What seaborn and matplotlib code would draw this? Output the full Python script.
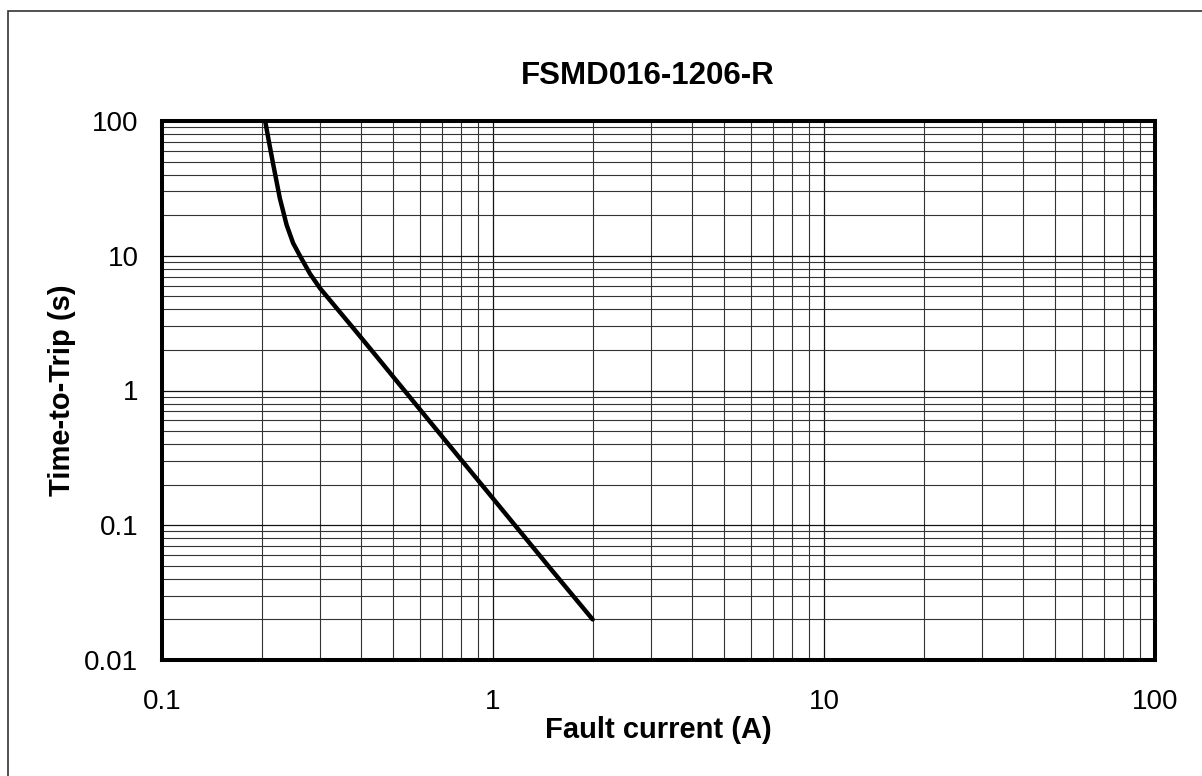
import matplotlib
matplotlib.use("Agg")
import matplotlib.pyplot as plt
from matplotlib.patches import Rectangle
from matplotlib.ticker import LogLocator, NullFormatter
import pandas as pd
import seaborn as sns

# Trip curve
current_a = [0.205, 0.21, 0.217, 0.227, 0.238, 0.249, 0.261, 0.28, 0.3,
             0.325, 0.353, 0.378, 0.405, 0.45, 0.5, 0.561, 0.759, 1.0,
             1.5, 2.0]
trip_s = [100, 72, 47, 26.7, 16.9, 12.4, 10.0, 7.35, 5.75,
          4.54, 3.56, 2.91, 2.37, 1.73, 1.26, 0.892, 0.36, 0.158,
          0.0469, 0.02]

x_ticks = [0.1, 1, 10, 100]
x_tick_labels = ["0.1", "1", "10", "100"]
y_ticks = [0.01, 0.1, 1, 10, 100]
y_tick_labels = ["0.01", "0.1", "1", "10", "100"]

title = "FSMD016-1206-R"
x_label = "Fault current (A)"
y_label = "Time-to-Trip (s)"

df = pd.DataFrame({"current": current_a, "time": trip_s})

sns.set_style("white")
plt.rcParams["font.family"] = ["Liberation Sans", "DejaVu Sans"]
plt.rcParams["text.color"] = "black"
plt.rcParams["axes.labelcolor"] = "black"
plt.rcParams["xtick.color"] = "black"
plt.rcParams["ytick.color"] = "black"

fig = plt.figure(figsize=(12.02, 7.76), dpi=100)
ax = fig.add_axes([162 / 1202, 1 - 660 / 776, 993 / 1202, 539 / 776])

# thin frame round the figure (only top and left show in the original)
fig.patches.append(Rectangle((8 / 1202, -0.05), 1.1, 1 - 11 / 776 + 0.05,
                             transform=fig.transFigure, fill=False,
                             edgecolor="#333333", linewidth=1.2))

sns.lineplot(data=df, x="current", y="time", ax=ax, color="black",
             linewidth=3.2, sort=False, zorder=5)

ax.set_xscale("log")
ax.set_yscale("log")
ax.set_xlim(0.1, 100)
ax.set_ylim(0.01, 100)

ax.set_xticks(x_ticks, x_tick_labels)
ax.set_yticks(y_ticks, y_tick_labels)
for axis in (ax.xaxis, ax.yaxis):
    axis.set_minor_locator(LogLocator(base=10, subs=range(2, 10)))
    axis.set_minor_formatter(NullFormatter())

ax.grid(True, which="major", color="#111111", linewidth=0.9)
ax.grid(True, which="minor", color="#333333", linewidth=0.8)

ax.tick_params(axis="x", which="major", labelsize=20, length=0, pad=21)
ax.tick_params(axis="y", which="major", labelsize=20, length=0, pad=17)
ax.tick_params(which="minor", length=0)

for s in ax.spines.values():
    s.set_linewidth(2.9)
    s.set_color("black")
    s.set_zorder(6)

ax.set_title(title, fontsize=22.5, fontweight="bold", pad=27)
ax.title.set_x((648 - 162) / 993)
ax.set_xlabel(x_label, fontsize=21, fontweight="bold")
ax.set_ylabel(y_label, fontsize=21, fontweight="bold")
ax.xaxis.set_label_coords(0.5, -0.104)
ax.yaxis.set_label_coords(-0.087, 0.5)

fig.savefig("out.png", dpi=100)
